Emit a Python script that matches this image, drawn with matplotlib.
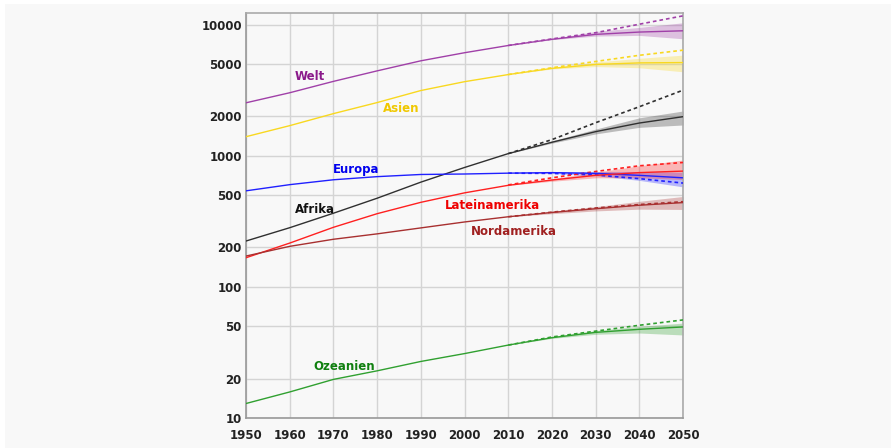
import matplotlib
matplotlib.use("Agg")
import matplotlib.pyplot as plt
from matplotlib.patches import Rectangle

years = [1950, 1960, 1970, 1980, 1990, 2000, 2010, 2020, 2030, 2040, 2050]
proj_years = [2010, 2020, 2030, 2040, 2050]

# population in millions (solid = estimate / median projection)
welt = [2540, 3030, 3700, 4450, 5310, 6120, 6950, 7750, 8450, 8800, 9000]
asien = [1400, 1700, 2100, 2550, 3150, 3680, 4170, 4650, 4980, 5120, 5150]
afrika = [224, 283, 365, 475, 630, 815, 1040, 1270, 1530, 1780, 1990]
europa = [541, 603, 657, 694, 721, 727, 738, 745, 735, 710, 680]
latein = [167, 216, 285, 362, 442, 522, 596, 654, 710, 745, 765]
nordam = [172, 204, 231, 254, 282, 313, 343, 370, 395, 420, 440]
ozeanien = [12.9, 15.8, 19.7, 22.9, 27.0, 31.0, 36.0, 41.0, 45.0, 47.5, 49.5]

# older projections (dashed), 2010-2050
welt_d = [6950, 7800, 8700, 10100, 11700]
asien_d = [4170, 4700, 5250, 5850, 6400]
afrika_d = [1040, 1330, 1790, 2370, 3170]
europa_d = [738, 735, 715, 670, 620]
latein_d = [600, 680, 760, 840, 890]
nordam_d = [343, 372, 400, 425, 447]
ozeanien_d = [36.0, 41.5, 46.0, 51.0, 56.0]

# uncertainty bands, 2010-2050
welt_lo = [6950, 7700, 8200, 8300, 7820]
welt_hi = [6950, 7820, 8900, 9550, 10360]
asien_lo = [4170, 4600, 4800, 4700, 4380]
asien_hi = [4170, 4700, 5200, 5550, 5870]
afrika_lo = [1040, 1250, 1470, 1650, 1720]
afrika_hi = [1040, 1300, 1600, 1950, 2200]
europa_lo = [738, 735, 705, 650, 580]
europa_hi = [738, 755, 760, 760, 750]
latein_lo = [596, 640, 680, 680, 660]
latein_hi = [596, 670, 750, 840, 930]
nordam_lo = [343, 362, 380, 392, 390]
nordam_hi = [343, 378, 410, 450, 490]
ozeanien_lo = [36.0, 40.5, 43.5, 44.5, 43.0]
ozeanien_hi = [36.0, 41.5, 46.5, 50.0, 53.0]

series = [
    ("Welt", welt, welt_d, welt_lo, welt_hi, "#a040a8", "#8b1a8b", 1964.6, 4010),
    ("Asien", asien, asien_d, asien_lo, asien_hi, "#f8d820", "#f0c800", 1985.5, 2290),
    ("Afrika", afrika, afrika_d, afrika_lo, afrika_hi, "#303030", "#111111", 1965.8, 387),
    ("Europa", europa, europa_d, europa_lo, europa_hi, "#2020ff", "#0000ee", 1975.2, 782),
    ("Lateinamerika", latein, latein_d, latein_lo, latein_hi, "#ff2020", "#ee0000", 2006.5, 415),
    ("Nordamerika", nordam, nordam_d, nordam_lo, nordam_hi, "#a83030", "#a02020", 2011.3, 263),
    ("Ozeanien", ozeanien, ozeanien_d, ozeanien_lo, ozeanien_hi, "#30a030", "#108010", 1972.4, 24.5),
]

yticks = [10, 20, 50, 100, 200, 500, 1000, 2000, 5000, 10000]
xticks = [1950, 1960, 1970, 1980, 1990, 2000, 2010, 2020, 2030, 2040, 2050]

fig = plt.figure(figsize=(8.91, 4.48), dpi=100, facecolor="white")
fig.patches.append(Rectangle((5 / 891, 0), 1, 1 - 4 / 448, transform=fig.transFigure,
                             facecolor="#f8f8f8", edgecolor="none", zorder=-10))
ax = fig.add_axes([246 / 891, 30 / 448, 437 / 891, 405 / 448])
ax.set_facecolor("#f8f8f8")
ax.set_yscale("log")
ax.set_xlim(1950, 2050)
ax.set_ylim(10, 12300)

for name, s, d, lo, hi, col, tcol, tx, ty in series:
    ax.fill_between(proj_years, lo, hi, color=col, alpha=0.3, linewidth=0, zorder=2)
    ax.plot(proj_years, d, color=col, lw=1.2, dashes=(2.2, 1.8), zorder=3)
    ax.plot(years, s, color=col, lw=1.0, zorder=4)
    ax.text(tx, ty, name, color=tcol, fontsize=8.5, fontweight="bold",
            ha="center", va="center", zorder=5)

ax.set_xticks(xticks)
ax.set_xticklabels([str(x) for x in xticks])
ax.set_yticks(yticks)
ax.set_yticklabels([str(y) for y in yticks])
ax.yaxis.set_minor_locator(matplotlib.ticker.NullLocator())
ax.tick_params(length=0, labelsize=8.5, colors="#222222")
ax.tick_params(axis="y", pad=3)
ax.tick_params(axis="x", pad=8)
for lab in ax.get_xticklabels() + ax.get_yticklabels():
    lab.set_fontweight("bold")
ax.grid(True, color="#d4d4d4", lw=1.0, zorder=0)
ax.set_axisbelow(True)
for side in ["left", "bottom"]:
    ax.spines[side].set_color("#999999")
    ax.spines[side].set_linewidth(1.2)
for side in ["top", "right"]:
    ax.spines[side].set_color("#aaaaaa")
    ax.spines[side].set_linewidth(1.2)

fig.savefig("out.png", dpi=100, facecolor=fig.get_facecolor())
